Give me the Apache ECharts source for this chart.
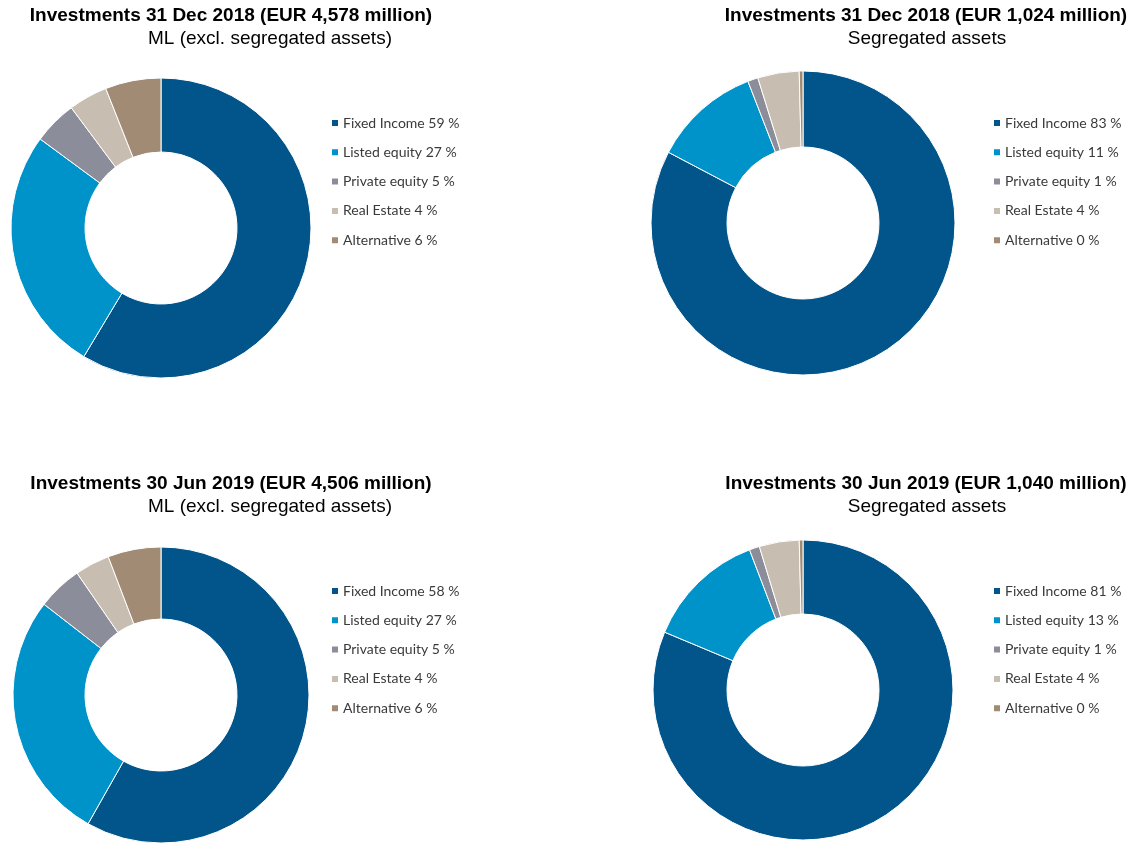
<!DOCTYPE html>
<html><head><meta charset="utf-8">
<script src="https://cdn.jsdelivr.net/npm/echarts@6/dist/echarts.min.js"></script>
<style>html,body{margin:0;padding:0;background:#fff}#c{width:1139px;height:845px}</style>
</head><body><div id="c"></div>
<script>
const categories = ['Fixed Income', 'Listed equity', 'Private equity', 'Real Estate', 'Alternative'];
const colors = ['#01558A', '#0093C9', '#8B8E9A', '#C8BDB1', '#A28B74'];

// slice values and printed legend percentages
const valuesMlDec18 = [58.6, 26.5, 4.7, 4.2, 6.0];
const pctMlDec18 = [59, 27, 5, 4, 6];
const valuesSegDec18 = [82.7, 11.4, 1.1, 4.4, 0.4];
const pctSegDec18 = [83, 11, 1, 4, 0];
const valuesMlJun19 = [58.2, 27.3, 4.9, 3.8, 5.8];
const pctMlJun19 = [58, 27, 5, 4, 6];
const valuesSegJun19 = [81.3, 12.9, 1.1, 4.3, 0.4];
const pctSegJun19 = [81, 13, 1, 4, 0];

const titles = [
  'Investments 31 Dec 2018 (EUR 4,578 million)',
  'Investments 31 Dec 2018 (EUR 1,024 million)',
  'Investments 30 Jun 2019 (EUR 4,506 million)',
  'Investments 30 Jun 2019 (EUR 1,040 million)'
];
const subtitles = [
  'ML (excl. segregated assets)',
  'Segregated assets',
  'ML (excl. segregated assets)',
  'Segregated assets'
];

const panels = [
  {vals: valuesMlDec18, pct: pctMlDec18, center: [161, 228], r: [76, 150], legend: [330, 116], title: [231, 6], sub: [270, 29]},
  {vals: valuesSegDec18, pct: pctSegDec18, center: [803, 223], r: [76, 152], legend: [992, 116], title: [926, 6], sub: [927, 29]},
  {vals: valuesMlJun19, pct: pctMlJun19, center: [161, 695], r: [76, 148], legend: [330, 584], title: [231, 474], sub: [270, 497]},
  {vals: valuesSegJun19, pct: pctSegJun19, center: [803, 690], r: [76, 150], legend: [992, 584], title: [926, 474], sub: [927, 497]}
];

const titleOpts = [], legendOpts = [], seriesOpts = [];
panels.forEach((p, i) => {
  titleOpts.push({text: titles[i], left: p.title[0], top: p.title[1], textAlign: 'center', padding: 0,
    textStyle: {fontFamily: 'Liberation Sans', fontWeight: 'bold', fontSize: 19, color: '#000'}});
  titleOpts.push({text: subtitles[i], left: p.sub[0], top: p.sub[1], textAlign: 'center', padding: 0,
    textStyle: {fontFamily: 'Liberation Sans', fontWeight: 'normal', fontSize: 19, color: '#000'}});
  const names = categories.map((c, k) => c + ' ' + p.pct[k] + ' %');
  legendOpts.push({orient: 'vertical', left: p.legend[0], top: p.legend[1], data: names, padding: 0,
    icon: 'rect', itemWidth: 8, itemHeight: 8, itemGap: 15.3, selectedMode: false,
    textStyle: {fontFamily: 'Lato', fontSize: 14, color: '#3a3a3a', lineHeight: 14, padding: [0, 0, 0, -1]}});
  seriesOpts.push({type: 'pie', center: p.center, radius: p.r, startAngle: 90, clockwise: true,
    silent: true, label: {show: false}, labelLine: {show: false}, animation: false,
    itemStyle: {borderColor: '#fff', borderWidth: 1},
    data: names.map((n, k) => ({name: n, value: p.vals[k], itemStyle: {color: colors[k]}}))});
});

const chart = echarts.init(document.getElementById('c'), null, {renderer: 'canvas'});
chart.setOption({animation: false, title: titleOpts, legend: legendOpts, series: seriesOpts});
</script></body></html>
